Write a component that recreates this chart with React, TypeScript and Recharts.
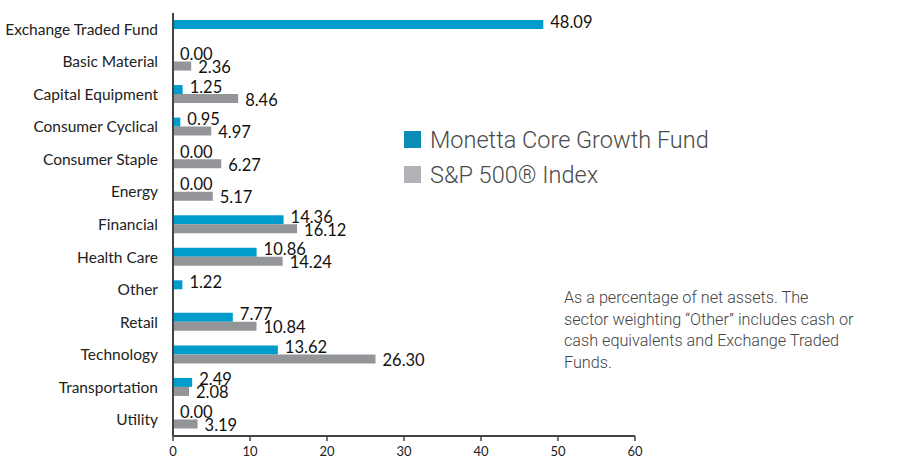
import React from "react";
import { BarChart, Bar, XAxis, YAxis, LabelList, Legend } from "recharts";

const categories = [
  "Exchange Traded Fund",
  "Basic Material",
  "Capital Equipment",
  "Consumer Cyclical",
  "Consumer Staple",
  "Energy",
  "Financial",
  "Health Care",
  "Other",
  "Retail",
  "Technology",
  "Transportation",
  "Utility",
];
const fundValues: (number | null)[] = [48.09, 0.0, 1.25, 0.95, 0.0, 0.0, 14.36, 10.86, 1.22, 7.77, 13.62, 2.49, 0.0];
const indexValues: (number | null)[] = [null, 2.36, 8.46, 4.97, 6.27, 5.17, 16.12, 14.24, null, 10.84, 26.3, 2.08, 3.19];
const xTicks = [0, 10, 20, 30, 40, 50, 60];
const seriesNames = ["Monetta Core Growth Fund", "S&P 500® Index"];
const noteLines = [
  "As a percentage of net assets. The",
  "sector weighting \u201cOther\u201d includes cash or",
  "cash equivalents and Exchange Traded",
  "Funds.",
];

const data = categories.map((c, i) => ({ name: c, fund: fundValues[i], index: indexValues[i] }));

const TEAL = "#009ccc";
const GRAY = "#939598";
const LEG_TEAL = "#0a8cb5";
const LEG_GRAY = "#b1b2b6";
const FONT = "Lato, 'Open Sans', sans-serif";

const makeLabel = (dy: number) => (props: any) => {
  const { x, y, width, height, value } = props;
  if (value === null || value === undefined) return null;
  const w = Number(width) < 0.5 ? 0 : Number(width);
  return (
    <text
      x={Number(x) + w + 7}
      y={Number(y) + Number(height) / 2 + dy}
      dominantBaseline="central"
      fontFamily={FONT}
      fontSize={16.5}
      fill="#111"
    >
      {Number(value).toFixed(2)}
    </text>
  );
};

const LegendContent = () => (
  <div style={{ fontFamily: "Roboto, sans-serif", fontWeight: 300 }}>
    {seriesNames.map((n, i) => (
      <div key={n} style={{ display: "flex", alignItems: "center", height: 35 }}>
        <div style={{ width: 17, height: 17, background: i === 0 ? LEG_TEAL : LEG_GRAY, marginRight: 9 }} />
        <span style={{ fontSize: 23.5, color: "#4a4a4a", whiteSpace: "nowrap" }}>{n}</span>
      </div>
    ))}
  </div>
);

export default function App() {
  return (
    <div style={{ position: "absolute", left: 0, top: 0, width: 903, height: 456, background: "#fff", fontFamily: FONT }}>
      <BarChart
        width={903}
        height={456}
        data={data}
        layout="vertical"
        margin={{ top: 13, right: 268, bottom: 0, left: 0 }}
        barGap={0}
        barSize={9}
      >
        <XAxis
          type="number"
          domain={[0, 60]}
          ticks={xTicks}
          interval={0}
          height={20}
          axisLine={{ stroke: "#444", strokeWidth: 2 }}
          tickLine={{ stroke: "#444", strokeWidth: 1.5 }}
          tickSize={5}
          tickMargin={6}
          tick={{ fontSize: 13, fill: "#222", fontFamily: FONT }}
        />
        <YAxis
          type="category"
          dataKey="name"
          width={173}
          axisLine={{ stroke: "#444", strokeWidth: 2 }}
          tickLine={false}
          tickSize={0}
          tickMargin={15}
          interval={0}
          tick={{ fontSize: 15.5, fill: "#222", fontFamily: FONT }}
        />
        <Legend
          layout="vertical"
          align="center"
          verticalAlign="middle"
          wrapperStyle={{ left: 404, top: 122, width: 360 }}
          content={<LegendContent />}
        />
        <Bar dataKey="fund" name={seriesNames[0]} fill={TEAL} minPointSize={0.01} isAnimationActive={false}>
          <LabelList dataKey="fund" content={makeLabel(-3)} />
        </Bar>
        <Bar dataKey="index" name={seriesNames[1]} fill={GRAY} isAnimationActive={false}>
          <LabelList dataKey="index" content={makeLabel(1)} />
        </Bar>
      </BarChart>
      <div
        style={{
          position: "absolute",
          left: 564,
          top: 287,
          fontFamily: "Roboto, sans-serif",
          fontWeight: 300,
          fontSize: 16.2,
          lineHeight: "21.5px",
          color: "#444",
          whiteSpace: "nowrap",
        }}
      >
        {noteLines.map((l) => (
          <div key={l}>{l}</div>
        ))}
      </div>
    </div>
  );
}
